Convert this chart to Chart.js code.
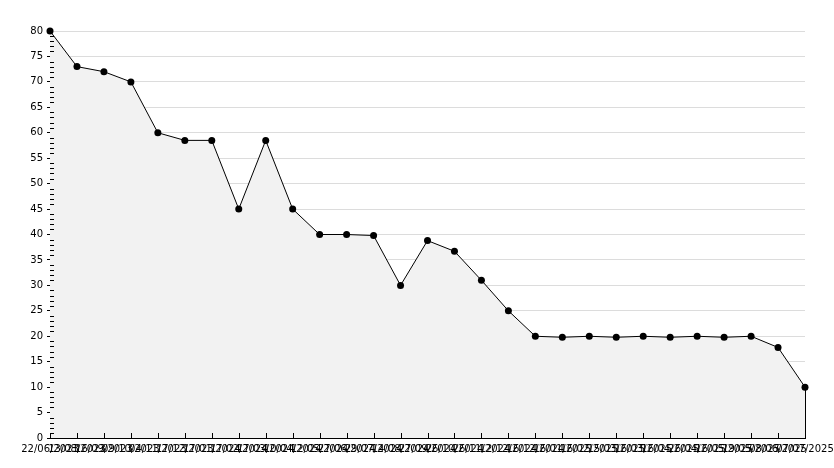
<!DOCTYPE html>
<html>
<head>
<meta charset="utf-8">
<script src="https://cdn.jsdelivr.net/npm/chart.js@4/dist/chart.umd.min.js"></script>
<style>
  html, body { margin: 0; padding: 0; background: #fff; }
  #wrap { width: 834px; height: 468px; position: relative; }
</style>
</head>
<body>
<div id="wrap"><canvas id="chart"></canvas></div>
<script>
const dates = [
  '22/06/2023', '13/08/2023', '16/09/2023', '09/10/2023', '04/11/2023', '17/12/2023',
  '17/01/2024', '17/02/2024', '17/03/2024', '10/04/2024', '12/05/2024', '27/06/2024',
  '29/07/2024', '14/08/2024', '27/09/2024', '26/10/2024', '26/11/2024', '12/12/2024',
  '16/12/2024', '16/01/2025', '16/02/2025', '15/03/2025', '16/03/2025', '16/04/2025',
  '26/04/2025', '16/05/2025', '19/05/2025', '08/06/2025', '07/07/2025'
];
const values = [
  80, 73, 72, 70, 60, 58.5, 58.5, 45, 58.5, 45, 40, 40, 39.8, 30, 38.8,
  36.7, 31, 25, 20, 19.8, 20, 19.8, 20, 19.8, 20, 19.8, 20, 17.8, 10
];
const yMin = 0;
const yMax = 80;
const yStep = 5;

// inward ticks on both axes + right edge of the filled area
const innerTicks = {
  id: 'innerTicks',
  afterDatasetsDraw(chart) {
    const ctx = chart.ctx;
    const x = chart.scales.x;
    const y = chart.scales.y;
    const area = chart.chartArea;
    ctx.save();
    ctx.strokeStyle = '#000';
    ctx.lineWidth = 1;
    ctx.beginPath();
    for (let i = 0; i < dates.length; i++) {
      const px = Math.round(x.getPixelForTick(i)) + 0.5;
      ctx.moveTo(px, area.bottom);
      ctx.lineTo(px, area.bottom - 5);
    }
    for (let v = yMin; v <= yMax; v++) {
      const py = Math.round(y.getPixelForValue(v)) + 0.5;
      ctx.moveTo(area.left, py);
      ctx.lineTo(area.left + (v % yStep === 0 ? 0 : 4), py);
    }
    const pts = chart.getDatasetMeta(0).data;
    const last = pts[pts.length - 1];
    const lx = Math.round(last.x) + 0.5;
    ctx.moveTo(lx, last.y);
    ctx.lineTo(lx, area.bottom);
    ctx.stroke();
    ctx.restore();
  }
};

new Chart(document.getElementById('chart'), {
  type: 'line',
  data: {
    labels: dates,
    datasets: [{
      data: values,
      borderColor: '#000',
      borderWidth: 1,
      backgroundColor: '#f2f2f2',
      fill: 'origin',
      tension: 0,
      clip: false,
      pointRadius: 3.5,
      pointBackgroundColor: '#000',
      pointBorderColor: '#000',
      pointBorderWidth: 0
    }]
  },
  options: {
    responsive: true,
    maintainAspectRatio: false,
    animation: false,
    layout: { padding: { top: 31, right: 0, left: 0, bottom: 0 } },
    plugins: { legend: { display: false }, tooltip: { enabled: false } },
    scales: {
      x: {
        offset: false,
        grid: { display: false, drawTicks: false },
        border: { color: '#000', width: 1 },
        ticks: {
          autoSkip: false, maxRotation: 0, minRotation: 0, padding: 5,
          color: '#000', font: { family: 'DejaVu Sans', size: 10 }
        },
        afterFit(scale) {
          scale.height = 30;
          scale.paddingLeft = 0;
          scale.paddingRight = 29;
        }
      },
      y: {
        min: yMin, max: yMax,
        grid: { color: '#dcdcdc', tickColor: '#000', tickLength: 3 },
        border: { color: '#000', width: 1 },
        ticks: {
          stepSize: yStep, padding: 4, color: '#000',
          font: { family: 'DejaVu Sans', size: 10 }
        },
        afterFit(scale) { scale.width = 50; scale.paddingTop = 0; }
      }
    }
  },
  plugins: [innerTicks]
});
</script>
</body>
</html>
